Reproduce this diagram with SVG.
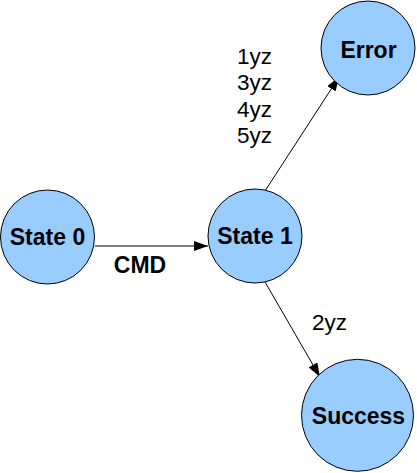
<svg xmlns="http://www.w3.org/2000/svg" width="417" height="473" viewBox="0 0 417 473">
<style>
.node{fill:#99ccff;stroke:#000;stroke-width:1}
.nt{font-family:"Liberation Sans",Arial,sans-serif;font-weight:bold;font-size:23px;fill:#000;text-anchor:middle}
.lt{font-family:"Liberation Sans",Arial,sans-serif;font-size:22.5px;fill:#000}
.edge{stroke:#000;stroke-width:1;fill:none;marker-end:url(#arr)}
</style>
<defs>
<marker id="arr" viewBox="0 0 14 10" refX="14" refY="5" markerWidth="14" markerHeight="10" markerUnits="userSpaceOnUse" orient="auto">
<path d="M0,0 L14,5 L0,10 Z" fill="#000"/>
</marker>
</defs>
<rect width="417" height="473" fill="#fff"/>
<g id="connectors">
<line class="edge" x1="95" y1="246" x2="208" y2="246"/>
<line class="edge" x1="265" y1="191" x2="339" y2="77"/>
<line class="edge" x1="265" y1="282" x2="320" y2="377"/>
<text class="nt" x="140" y="273">CMD</text>
<text class="lt" x="237" y="64">1yz</text>
<text class="lt" x="237" y="90">3yz</text>
<text class="lt" x="237" y="117">4yz</text>
<text class="lt" x="237" y="143">5yz</text>
<text class="lt" x="312" y="330">2yz</text>
</g>
<g id="state0">
<circle class="node" cx="47.5" cy="237" r="47"/>
<text class="nt" x="47.5" y="244.5">State 0</text>
</g>
<g id="state1">
<circle class="node" cx="255" cy="236" r="47"/>
<text class="nt" x="255" y="244">State 1</text>
</g>
<g id="error">
<circle class="node" cx="368" cy="48" r="47"/>
<text class="nt" x="368.5" y="57.5">Error</text>
</g>
<g id="success">
<circle class="node" cx="357.5" cy="415.3" r="56"/>
<text class="nt" x="358.5" y="423.5">Success</text>
</g>
</svg>
